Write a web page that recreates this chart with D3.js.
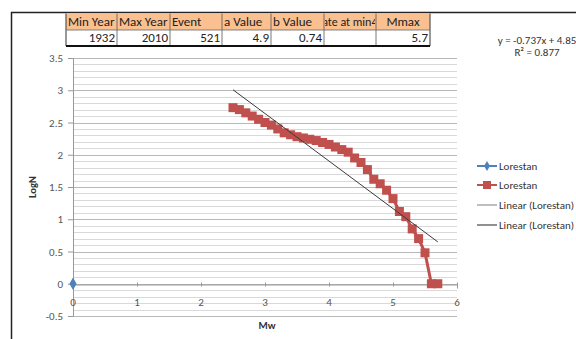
<!DOCTYPE html>
<html><head><meta charset="utf-8">
<script src="https://cdn.jsdelivr.net/npm/d3@7"></script>
<style>html,body{margin:0;padding:0;background:#fff;}svg{display:block;}</style>
</head><body>
<svg id="c" width="576" height="339"></svg>
<script>
// ---- data ----
const tableHeaders = ["Min Year","Max Year","Event","a Value","b Value","Rate at min4","Mmax"];
const tableValues  = ["1932","2010","521","4.9","0.74","","5.7"];
const blueMw   = [0];
const blueLogN = [0];
const redMw   = [2.5,2.6,2.7,2.8,2.9,3.0,3.1,3.2,3.3,3.4,3.5,3.6,3.7,3.8,3.9,4.0,4.1,4.2,4.3,4.4,4.5,4.6,4.7,4.8,4.9,5.0,5.1,5.2,5.3,5.4,5.5,5.6,5.7];
const redLogN = [2.73,2.70,2.65,2.60,2.55,2.50,2.46,2.40,2.34,2.31,2.28,2.26,2.24,2.22,2.19,2.16,2.12,2.08,2.04,1.95,1.88,1.77,1.62,1.55,1.45,1.32,1.12,1.04,0.85,0.70,0.48,0,0];
const trendSlope = -0.737, trendIntercept = 4.85;
const xTicks = [0,1,2,3,4,5,6];
const yTicks = [-0.5,0,0.5,1,1.5,2,2.5,3,3.5];
const legendLabels = ["Lorestan","Lorestan","Linear (Lorestan)","Linear (Lorestan)"];
const eqLines = ["y = -0.737x + 4.85","R² = 0.877"];

const FONT = "Carlito, Lato, 'Liberation Sans', sans-serif";
const svg = d3.select("#c");

// frame
svg.append("line").attr("x1",11).attr("x2",576).attr("y1",12.5).attr("y2",12.5).attr("stroke","#222").attr("stroke-width",1.5);
svg.append("line").attr("x1",11.5).attr("x2",11.5).attr("y1",12).attr("y2",339).attr("stroke","#222").attr("stroke-width",1.5);

// ---- table ----
const colEdges = [66,117,170,222,271,324,376,430];
const tTop = 13.5, tMid = 30, tBot = 46;
const tg = svg.append("g");
const defs = svg.append("defs");
tableHeaders.forEach((h,i)=>{
  const x0 = colEdges[i], x1 = colEdges[i+1];
  tg.append("rect").attr("x",x0).attr("y",tTop).attr("width",x1-x0).attr("height",tMid-tTop).attr("fill","#fac08f");
  defs.append("clipPath").attr("id","cl"+i).append("rect").attr("x",x0+1).attr("y",tTop).attr("width",x1-x0-2).attr("height",tMid-tTop);
  const t = tg.append("text").attr("clip-path","url(#cl"+i+")").attr("y",tMid-4).attr("font-family",FONT).attr("font-size",13).attr("fill","#222").text(h);
  if (i===6) t.attr("x",(x0+x1)/2).attr("text-anchor","middle");
  else if (i===5) t.attr("x",x1+1.5).attr("text-anchor","end").attr("font-size",12);
  else t.attr("x",x0+2);
  tg.append("text").attr("x",x1-2).attr("y",tBot-4).attr("text-anchor","end").attr("font-family",FONT).attr("font-size",13).attr("fill","#222").text(tableValues[i]);
});
colEdges.forEach((x,i)=>{
  tg.append("line").attr("x1",x).attr("x2",x).attr("y1",tTop).attr("y2",tBot).attr("stroke","#555").attr("stroke-width",i===0||i===7?1.2:0.8);
});
tg.append("line").attr("x1",colEdges[0]).attr("x2",colEdges[7]).attr("y1",tMid).attr("y2",tMid).attr("stroke","#666").attr("stroke-width",0.8);
tg.append("line").attr("x1",colEdges[0]).attr("x2",colEdges[7]).attr("y1",tBot).attr("y2",tBot).attr("stroke","#111").attr("stroke-width",2);

// ---- plot ----
const x = d3.scaleLinear().domain([0,6]).range([73,457]);
const y = d3.scaleLinear().domain([-0.5,3.5]).range([316,58]);

// grid every 0.1
const minor = d3.range(-5,36).map(d=>d/10);
svg.append("g").selectAll("line").data(minor).join("line")
  .attr("x1",x(0)).attr("x2",x(6))
  .attr("y1",d=>Math.round(y(d))+0.5).attr("y2",d=>Math.round(y(d))+0.5)
  .attr("stroke",d=>Math.abs(d*2-Math.round(d*2))<1e-6?"#b8b8b8":"#d9d9d9").attr("stroke-width",1);

// y axis
const yAxis = d3.axisLeft(y).tickValues(yTicks).tickSize(5).tickPadding(5).tickFormat(d=>String(d));
const yg = svg.append("g").attr("transform","translate("+x(0)+",0)").call(yAxis);
yg.select(".domain").attr("stroke","#999");
yg.selectAll(".tick line").attr("stroke","#999");
yg.selectAll("text").attr("font-family",FONT).attr("font-size",11).attr("fill","#555");

// x axis at y=0, labels below
const xAxis = d3.axisBottom(x).tickValues(xTicks).tickSize(4).tickFormat(()=> "");
const xg = svg.append("g").attr("transform","translate(0,"+(Math.round(y(0))+0.5)+")").call(xAxis);
xg.select(".domain").attr("stroke","#999");
xg.selectAll(".tick line").attr("stroke","#999").attr("y1",-2).attr("y2",2);
svg.append("g").selectAll("text").data(xTicks).join("text")
  .attr("x",d=>x(d)).attr("y",305.5).attr("text-anchor","middle")
  .attr("font-family",FONT).attr("font-size",11).attr("fill","#555").text(d=>d);

// axis titles
svg.append("text").attr("x",x(3)+2).attr("y",329).attr("text-anchor","middle").attr("font-family",FONT).attr("font-size",10.5).attr("font-weight","bold").attr("fill","#333").text("Mw");
svg.append("text").attr("transform","translate(36,"+y(1.5)+") rotate(-90)").attr("text-anchor","middle").attr("font-family",FONT).attr("font-size",10.5).attr("font-weight","bold").attr("fill","#333").text("LogN");

// red series
const red = redMw.map((m,i)=>[m,redLogN[i]]);
svg.append("path").datum(red).attr("fill","none").attr("stroke","#c0504d").attr("stroke-width",3)
  .attr("d",d3.line().x(d=>x(d[0])).y(d=>y(d[1])));
svg.append("g").selectAll("rect").data(red).join("rect")
  .attr("x",d=>x(d[0])-4.5).attr("y",d=>y(d[1])-4.5).attr("width",9).attr("height",9).attr("fill","#c0504d");

// trendline
const tx = [d3.min(redMw), d3.max(redMw)];
svg.append("line").attr("x1",x(tx[0])).attr("y1",y(trendSlope*tx[0]+trendIntercept))
  .attr("x2",x(tx[1])).attr("y2",y(trendSlope*tx[1]+trendIntercept))
  .attr("stroke","#3a3a3a").attr("stroke-width",1);

// blue series
const blue = blueMw.map((m,i)=>[m,blueLogN[i]]);
svg.append("g").selectAll("path").data(blue).join("path")
  .attr("transform",d=>"translate("+x(d[0])+","+y(d[1])+")")
  .attr("d",d3.symbol(d3.symbolDiamond,45)).attr("fill","#4f81bd");

// equation
eqLines.forEach((t,i)=>{
  svg.append("text").attr("x",537).attr("y",44+i*12).attr("text-anchor","middle").attr("font-family",FONT).attr("font-size",11).attr("fill","#333").text(t);
});

// legend
const legY = [166,185,205,225];
const lg = svg.append("g");
legendLabels.forEach((l,i)=>{
  const yy = legY[i];
  const col = ["#4f81bd","#c0504d","#7f7f7f","#222"][i];
  lg.append("line").attr("x1",477).attr("x2",497).attr("y1",yy).attr("y2",yy).attr("stroke",col).attr("stroke-width",i<2?2:1);
  if (i===0) lg.append("path").attr("transform","translate(487,"+yy+")").attr("d",d3.symbol(d3.symbolDiamond,30)).attr("fill",col);
  if (i===1) lg.append("rect").attr("x",483).attr("y",yy-4).attr("width",8).attr("height",8).attr("fill",col);
  lg.append("text").attr("x",499).attr("y",yy+4).attr("font-family",FONT).attr("font-size",11).attr("fill","#333").text(l);
});
</script>
</body></html>
